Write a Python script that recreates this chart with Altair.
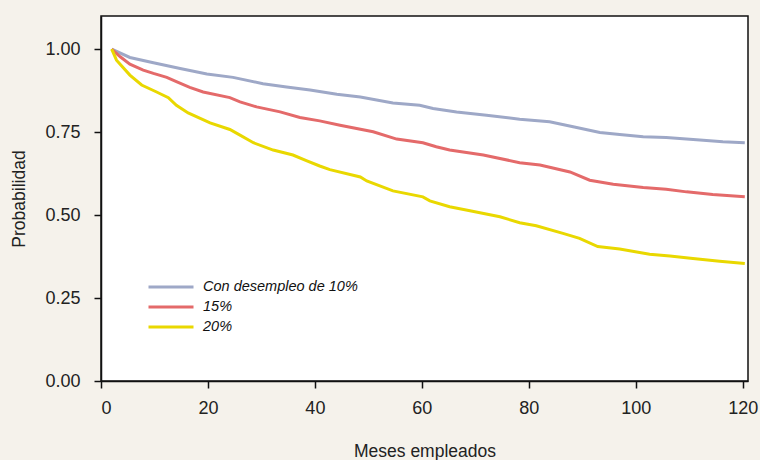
import altair as alt
import pandas as pd

series_names = ["Con desempleo de 10%", "15%", "20%"]
series_colors = ["#9ea8c7", "#e46a6a", "#e9d800"]

months_10 = [2, 5.4, 9.8, 14.8, 19.8, 24.7, 30.3, 34.7, 39.1, 44.1, 48.5, 54.6, 59.6, 62.1,
             66.5, 72.1, 78.3, 83.9, 88.3, 93.3, 97, 101.4, 105.7, 112, 116.3, 120.4]
prob_10 = [1.0, 0.975, 0.959, 0.942, 0.925, 0.915, 0.896, 0.886, 0.877, 0.864, 0.856, 0.838, 0.831, 0.821,
           0.811, 0.801, 0.789, 0.781, 0.766, 0.749, 0.743, 0.736, 0.734, 0.726, 0.721, 0.718]

months_15 = [2, 3.6, 5.4, 7.9, 9.8, 12.3, 14.1, 16.6, 19.1, 24.1, 26, 29.1, 33.5, 37.2, 40.9, 44.7,
             50.9, 55.3, 60.2, 62.7, 65.2, 71.5, 78.3, 82.1, 87.7, 91.4, 95.8, 101.4, 105.7, 109.5,
             114.4, 120.4]
prob_15 = [1.0, 0.977, 0.955, 0.937, 0.927, 0.915, 0.902, 0.885, 0.871, 0.854, 0.841, 0.826, 0.811, 0.794,
           0.784, 0.771, 0.751, 0.729, 0.718, 0.706, 0.696, 0.681, 0.658, 0.651, 0.630, 0.605, 0.593,
           0.583, 0.578, 0.570, 0.562, 0.555]

months_20 = [2, 2.9, 5.4, 7.6, 10.4, 12.6, 14.1, 16.3, 20.4, 24.1, 26, 28.5, 32.2, 35.9, 38.4, 40.9,
             42.8, 48.5, 49.7, 54.6, 60.2, 61.5, 65.2, 69, 74.6, 78.3, 81.4, 86.4, 89.5, 92.9, 97,
             102.6, 106.4, 110.7, 115.7, 120.4]
prob_20 = [1.0, 0.967, 0.922, 0.892, 0.871, 0.854, 0.831, 0.808, 0.778, 0.758, 0.741, 0.718, 0.696, 0.681,
           0.664, 0.648, 0.637, 0.615, 0.603, 0.573, 0.555, 0.543, 0.525, 0.513, 0.495, 0.477, 0.468,
           0.445, 0.430, 0.405, 0.398, 0.382, 0.377, 0.369, 0.361, 0.354]

x_ticks = [0, 20, 40, 60, 80, 100, 120]
y_ticks = [0, 0.25, 0.5, 0.75, 1.0]

rows = []
for name, ms, ps in zip(series_names, [months_10, months_15, months_20], [prob_10, prob_15, prob_20]):
    for m, p in zip(ms, ps):
        rows.append({"serie": name, "mes": m, "prob": p})
df = pd.DataFrame(rows)

FONT = "Liberation Sans, Arial, sans-serif"

chart = alt.Chart(df).mark_line(strokeWidth=3).encode(
    x=alt.X("mes:Q", scale=alt.Scale(domain=[0, 121], nice=False, zero=False),
            axis=alt.Axis(values=x_ticks, format="d", title="Meses empleados",
                          tickSize=7, labelPadding=11, titlePadding=25)),
    y=alt.Y("prob:Q", scale=alt.Scale(domain=[0, 1.1], nice=False),
            axis=alt.Axis(values=y_ticks, format=".2f", title="Probabilidad",
                          tickSize=7, labelPadding=14, titlePadding=16)),
    color=alt.Color("serie:N", sort=series_names,
                    scale=alt.Scale(domain=series_names, range=series_colors),
                    legend=alt.Legend(title=None, orient="none", legendX=61, legendY=262,
                                      symbolType="M-3,0L3,0", symbolSize=225,
                                      symbolStrokeWidth=3, labelOffset=23, rowPadding=4,
                                      padding=0, labelFontStyle="italic", labelFontSize=14.5,
                                      labelLimit=0, labelFont=FONT, labelColor="#111")),
    order=alt.Order("mes:Q"),
).properties(
    width=647, height=365,
    padding={"left": 101, "top": 16, "right": 12, "bottom": 79},
    autosize="none",
    background="#f5f2eb",
).configure_view(
    fill="white", stroke="#111", strokeWidth=1.5
).configure_axis(
    grid=False, domainColor="#111", domainWidth=1.5, tickColor="#111", tickWidth=1.5,
    labelFont=FONT, titleFont=FONT, labelFontSize=18, titleFontSize=17.5,
    labelColor="#222", titleColor="#222", titleFontWeight="normal",
)

chart.save("out.html", embed_options={"renderer": "svg", "actions": False})
